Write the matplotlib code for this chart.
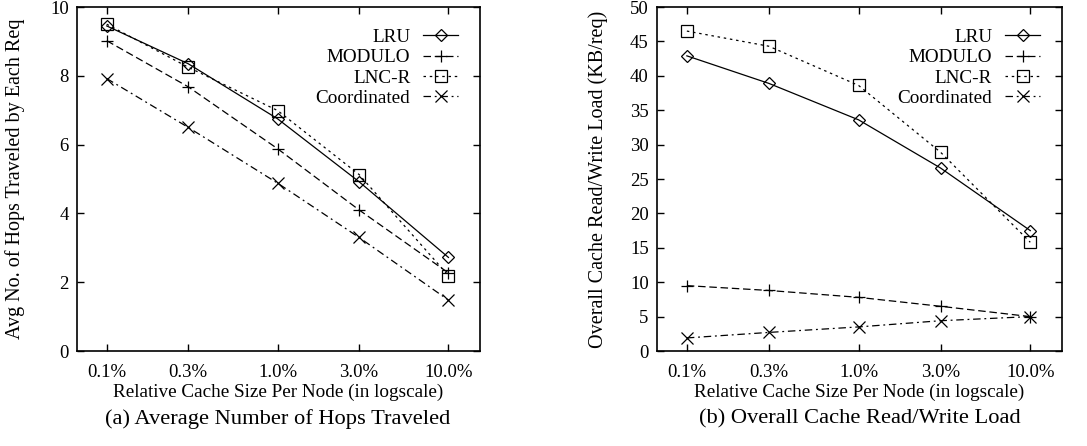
import matplotlib
matplotlib.use("Agg")
from matplotlib import pyplot as plt

plt.rcParams["font.family"] = ["Liberation Serif", "DejaVu Serif"]

cache_sizes = [0.1, 0.3, 1.0, 3.0, 10.0]
tick_labels = ["0.1%", "0.3%", "1.0%", "3.0%", "10.0%"]
series_names = ["LRU", "MODULO", "LNC-R", "Coordinated"]

# (a) average number of hops
hops_lru = [9.45, 8.35, 6.75, 4.92, 2.72]
hops_modulo = [9.02, 7.68, 5.88, 4.10, 2.27]
hops_lncr = [9.50, 8.25, 6.99, 5.13, 2.19]
hops_coord = [7.92, 6.50, 4.88, 3.30, 1.48]

# (b) overall cache read/write load
load_lru = [42.9, 38.9, 33.6, 26.6, 17.5]
load_modulo = [9.5, 8.8, 7.8, 6.5, 5.0]
load_lncr = [46.5, 44.3, 38.6, 28.9, 15.8]
load_coord = [1.9, 2.7, 3.5, 4.4, 5.0]

styles = [
    dict(linestyle="-", marker="D", markersize=6),
    dict(linestyle=(0, (6, 3)), marker="+", markersize=9),
    dict(linestyle=(0, (2, 3)), marker="s", markersize=8),
    dict(linestyle=(0, (6, 3, 1.5, 3)), marker="x", markersize=8),
]

W, H = 1087, 446
fig = plt.figure(figsize=(W / 100, H / 100), dpi=100)


def draw_panel(ax, series, ylim, yticks, ylabel, ylabel_x):
    for name, values, st in zip(series_names, series, styles):
        ax.plot(cache_sizes, values, color="black", linewidth=0.9,
                markerfacecolor="none", markeredgecolor="black",
                markeredgewidth=0.9, label=name, **st)
    ax.set_xscale("log")
    ax.set_xlim(0.067, 15.3)
    ax.set_ylim(*ylim)
    ax.set_xticks(cache_sizes)
    ax.set_xticklabels(tick_labels)
    ax.minorticks_off()
    ax.set_yticks(yticks)
    ax.tick_params(direction="in", top=True, right=True, length=5,
                   width=1, labelsize=13.5)
    ax.tick_params(axis="x", pad=9.5)
    ax.tick_params(axis="y", pad=6)
    for sp in ax.spines.values():
        sp.set_linewidth(1.2)
    ax.set_xlabel("Relative Cache Size Per Node (in logscale)", fontsize=13.8)
    ax.xaxis.set_label_coords(0.5, (351 - 392) / 344)
    ax.xaxis.label.set_va("center")
    ax.set_ylabel(ylabel, fontsize=14.5)
    ax.yaxis.set_label_coords(ylabel_x, 0.5)
    ax.yaxis.label.set_va("center")
    ax.legend(loc="upper right", bbox_to_anchor=(0.97, 0.965), frameon=False,
              markerfirst=False, fontsize=13.8, handlelength=1.85,
              handletextpad=0.65, labelspacing=0.15, borderpad=0,
              numpoints=1)


ax1 = fig.add_axes([77 / W, 1 - 351 / H, 403 / W, 344 / H])
draw_panel(ax1, [hops_lru, hops_modulo, hops_lncr, hops_coord],
           (0, 10), [0, 2, 4, 6, 8, 10],
           "Avg No. of Hops Traveled by Each Req", (15 - 77) / 403)

ax2 = fig.add_axes([657 / W, 1 - 351 / H, 405 / W, 344 / H])
draw_panel(ax2, [load_lru, load_modulo, load_lncr, load_coord],
           (0, 50), list(range(0, 51, 5)),
           "Overall Cache Read/Write Load (KB/req)", (598 - 657) / 405)

fig.text(278 / W, 1 - 419 / H, "(a) Average Number of Hops Traveled",
         ha="center", va="center", fontsize=16.2)
fig.text(860 / W, 1 - 419 / H, "(b) Overall Cache Read/Write Load",
         ha="center", va="center", fontsize=16.2)

fig.savefig("out.png", dpi=100)
